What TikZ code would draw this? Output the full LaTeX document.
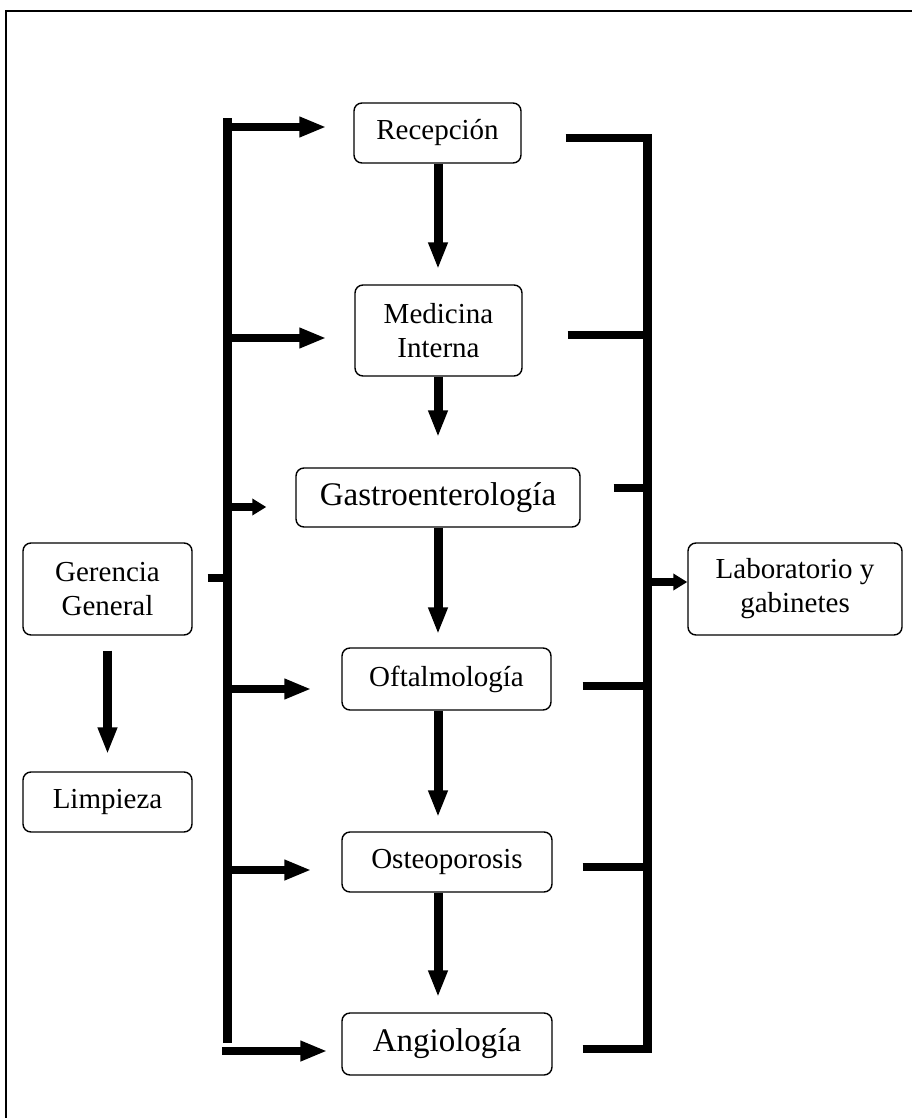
\documentclass[tikz,border=0pt]{standalone}
\usepackage{fontspec}
\setmainfont{Liberation Serif}
\usetikzlibrary{arrows.meta,calc}
\begin{document}
\begin{tikzpicture}[x=1pt,y=-1pt,
  box/.style={draw, rounded corners=8pt, line width=1.4pt, align=center, inner sep=0pt,
              font=\fontsize{29}{34}\selectfont},
  bigtext/.style={font=\fontsize{33}{38}\selectfont},
  bar/.style={line width=9pt},
  stub/.style={line width=8pt},
  harrow/.style={line width=8pt, -{Triangle[length=27pt,width=19pt]}},
  sharrow/.style={line width=8pt, -{Triangle[length=14pt,width=16pt]}},
  varrow/.style={line width=9pt, -{Triangle[length=27pt,width=18pt]}},
  frame/.style={line width=2pt}
]
\useasboundingbox (0,0) rectangle (912,1118);

% frame
\coordinate (FB) at (6,1118);
\coordinate (FC) at (6,11);
\coordinate (FR) at (912,11);
\draw[frame] (FB) -- (FC) -- (FR);

% boxes
\node[box, minimum width=167pt, minimum height=60pt] (rec) at (437.5,133) {Recepción};
\node[box, minimum width=167pt, minimum height=91pt] (med) at (438.5,330.5) {Medicina\\Interna};
\node[box, bigtext, minimum width=284pt, minimum height=59pt] (gas) at (438,497.5) {Gastroenterología};
\node[box, minimum width=209pt, minimum height=62pt] (oft) at (446.5,679) {Oftalmología};
\node[box, minimum width=210pt, minimum height=60pt] (ost) at (447,862) {Osteoporosis};
\node[box, bigtext, minimum width=210pt, minimum height=62pt] (ang) at (447,1044) {Angiología};
\node[box, minimum width=169pt, minimum height=92pt] (ger) at (107.5,589) {Gerencia\\General};
\node[box, minimum width=169pt, minimum height=60pt] (lim) at (107.5,802) {Limpieza};
\node[box, minimum width=214pt, minimum height=92pt] (lab) at (795,589) {Laboratorio y\\gabinetes};

% bus coordinates
\coordinate (LT) at (227,118);
\coordinate (LB) at (227,1043);
\coordinate (RT) at (647,134);
\coordinate (RB) at (647,1053);
\coordinate (V) at (438,0);

% left bus and arrows
\draw[bar] (LB) -- (LT);
\draw[harrow] ($(LT |- rec.west)+(0,-6)$) -- ($(rec.west)+(-27,-6)$);
\draw[harrow] ($(LT |- med.west)+(0,7.5)$) -- ($(med.west)+(-28,7.5)$);
\draw[sharrow] ($(LT |- gas.west)+(0,9.5)$) -- ($(gas.west)+(-29,9.5)$);
\draw[harrow] ($(LT |- oft.west)+(0,10)$) -- ($(oft.west)+(-30,10)$);
\draw[harrow] ($(LT |- ost.west)+(0,8)$) -- ($(ost.west)+(-30,8)$);
\draw[harrow] ($(LT |- ang.west)+(-5,7)$) -- ($(ang.west)+(-14,7)$);
\draw[stub] ($(ger.east)+(15,-11)$) -- ($(LT |- ger.east)+(0,-11)$);

% right bus and stubs
\draw[bar] (RT) -- (RB);
\draw[stub] ($(rec.east)+(44,5)$) -- ($(RT |- rec.east)+(0,5)$);
\draw[stub] ($(med.east)+(45,4.5)$) -- ($(RT |- med.east)+(0,4.5)$);
\draw[stub] ($(gas.east)+(33,-9.5)$) -- ($(RT |- gas.east)+(0,-9.5)$);
\draw[stub] ($(oft.east)+(31,7)$) -- ($(RT |- oft.east)+(0,7)$);
\draw[stub] ($(ost.east)+(30,5)$) -- ($(RT |- ost.east)+(0,5)$);
\draw[stub] ($(ang.east)+(30,5)$) -- ($(RT |- ang.east)+(0,5)$);
\draw[sharrow] ($(RT |- lab.west)+(0,-7)$) -- ($(lab.west)+(0,-7)$);

% vertical chain
\draw[varrow] (V |- rec.south) -- ($(V |- med.north)+(0,-15)$);
\draw[varrow] (V |- med.south) -- ($(V |- gas.north)+(0,-30)$);
\draw[varrow] (V |- gas.south) -- ($(V |- oft.north)+(0,-13)$);
\draw[varrow] (V |- oft.south) -- ($(V |- ost.north)+(0,-14)$);
\draw[varrow] (V |- ost.south) -- ($(V |- ang.north)+(0,-15)$);

% gerencia -> limpieza
\draw[varrow] ($(ger.south)+(0,15)$) -- ($(lim.north)+(0,-17)$);
\end{tikzpicture}
\end{document}
